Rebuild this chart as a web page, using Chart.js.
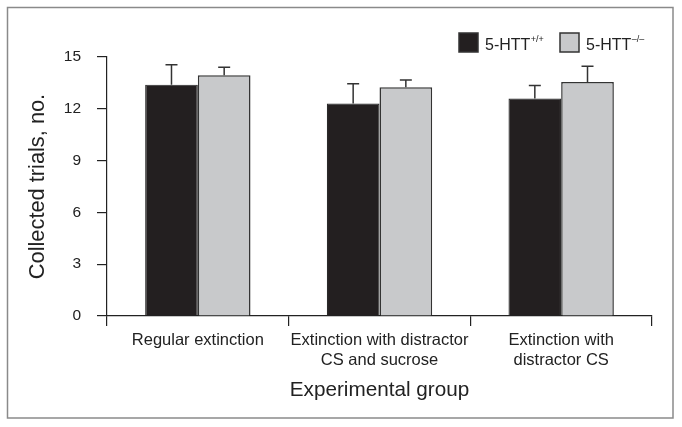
<!DOCTYPE html>
<html>
<head>
<meta charset="utf-8">
<script src="https://cdn.jsdelivr.net/npm/chart.js@4"></script>
<style>
  html, body { margin: 0; padding: 0; background: #fff; }
  #wrap { width: 682px; height: 427px; position: relative; }
</style>
</head>
<body>
<div id="wrap"><canvas id="c" width="682" height="427"></canvas></div>
<script>
const categories = [["Regular extinction"], ["Extinction with distractor", "CS and sucrose"], ["Extinction with", "distractor CS"]];
const wtValues = [13.4, 12.3, 12.6];
const wtErrors = [1.15, 1.15, 0.75];
const koValues = [13.95, 13.25, 13.55];
const koErrors = [0.45, 0.42, 0.92];
const yTicks = [0, 3, 6, 9, 12, 15];
const seriesNames = [["5-HTT", "+/+"], ["5-HTT", "\u2013/\u2013"]];
const errorsBySeries = [wtErrors, koErrors];

const FONT = "'Liberation Sans', Arial, Helvetica, sans-serif";

const framePlugin = {
  id: 'frame',
  beforeDraw(chart) {
    const ctx = chart.ctx;
    ctx.save();
    ctx.fillStyle = '#fff';
    ctx.fillRect(0, 0, chart.width, chart.height);
    ctx.strokeStyle = '#8a8a8a';
    ctx.lineWidth = 1.5;
    ctx.strokeRect(7.5, 7.5, 665.5, 410.5);
    ctx.restore();
  }
};

const errorPlugin = {
  id: 'errbars',
  afterDatasetsDraw(chart) {
    const ctx = chart.ctx;
    const y = chart.scales.y;
    ctx.save();
    ctx.strokeStyle = '#333';
    ctx.lineWidth = 1.5;
    chart.data.datasets.forEach((ds, i) => {
      const meta = chart.getDatasetMeta(i);
      meta.data.forEach((el, j) => {
        const top = y.getPixelForValue(ds.data[j] + errorsBySeries[i][j]);
        ctx.beginPath();
        ctx.moveTo(el.x, el.y);
        ctx.lineTo(el.x, top);
        ctx.moveTo(el.x - 6, top);
        ctx.lineTo(el.x + 6, top);
        ctx.stroke();
      });
    });
    ctx.restore();
  }
};

const legendPlugin = {
  id: 'customLegend',
  afterDraw(chart) {
    const ctx = chart.ctx;
    const items = [
      { x: 459, fill: '#231f20', name: seriesNames[0] },
      { x: 560, fill: '#c8c9cb', name: seriesNames[1] }
    ];
    ctx.save();
    items.forEach(it => {
      ctx.fillStyle = it.fill;
      ctx.fillRect(it.x, 33, 19, 19);
      ctx.strokeStyle = '#333';
      ctx.lineWidth = 1.5;
      ctx.strokeRect(it.x, 33, 19, 19);
      ctx.fillStyle = '#222';
      ctx.font = '16px ' + FONT;
      ctx.textBaseline = 'alphabetic';
      ctx.textAlign = 'left';
      const tx = it.x + 26;
      ctx.fillText(it.name[0], tx, 49.5);
      const w = ctx.measureText(it.name[0]).width;
      ctx.font = '9px ' + FONT;
      ctx.fillText(it.name[1], tx + w + 0.5, 42);
    });
    ctx.restore();
  }
};

new Chart(document.getElementById('c'), {
  type: 'bar',
  data: {
    labels: categories,
    datasets: [
      { label: seriesNames[0].join(''), data: wtValues, backgroundColor: '#231f20', borderColor: '#2a2a2a', borderWidth: 1.2, categoryPercentage: 0.58, barPercentage: 1.0 },
      { label: seriesNames[1].join(''), data: koValues, backgroundColor: '#c8c9cb', borderColor: '#333', borderWidth: 1.5, categoryPercentage: 0.58, barPercentage: 1.0 }
    ]
  },
  options: {
    responsive: false,
    animation: false,
    devicePixelRatio: 1,
    layout: { padding: { top: 57, right: 30, bottom: 0, left: 0 } },
    plugins: { legend: { display: false }, tooltip: { enabled: false } },
    scales: {
      x: {
        afterFit: s => { s.height = 111; },
        grid: { display: true, offset: true, drawOnChartArea: false, drawTicks: true, tickLength: 10, color: '#222', lineWidth: 1.2 },
        border: { display: true, color: '#222', width: 1.2 },
        ticks: { color: '#222', padding: 5, font: { family: FONT, size: 16.5, lineHeight: 1.2 }, maxRotation: 0, autoSkip: false },
        title: { display: true, text: 'Experimental group', color: '#222', font: { family: FONT, size: 20.7 }, padding: { top: 0, bottom: 24.5 } }
      },
      y: {
        min: 0, max: 15,
        afterFit: s => { s.width = 107; },
        afterBuildTicks: s => { s.ticks = yTicks.map(v => ({ value: v })); },
        grid: { display: true, drawOnChartArea: false, drawTicks: true, tickLength: 10, color: '#222', lineWidth: 1.2 },
        border: { display: true, color: '#222', width: 1.2 },
        ticks: { color: '#222', padding: 16, font: { family: FONT, size: 15.5 } },
        title: { display: true, text: 'Collected trials, no.', color: '#222', font: { family: FONT, size: 21.8 }, padding: { top: 24.5, bottom: 0 } }
      }
    }
  },
  plugins: [framePlugin, errorPlugin, legendPlugin]
});
</script>
</body>
</html>
